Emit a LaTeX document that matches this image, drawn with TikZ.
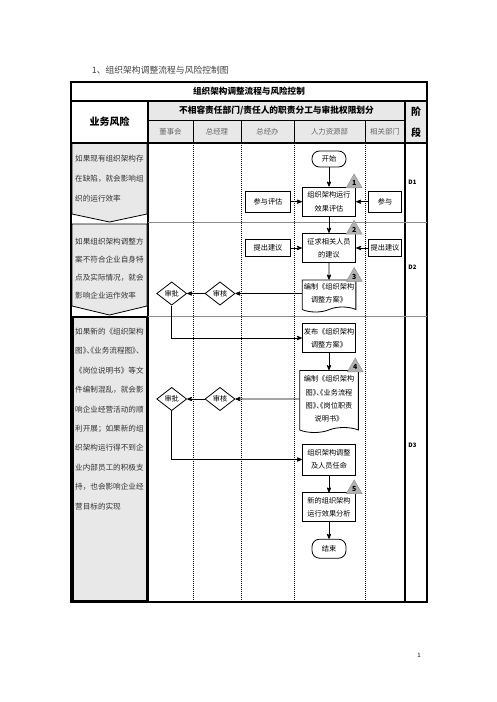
\documentclass[tikz,border=0pt]{standalone}
\usepackage{fontspec}
\setmainfont{Noto Sans CJK SC}
\usetikzlibrary{arrows,shapes.geometric,shapes.symbols}
\newcommand{\halfpunct}[1]{{\addfontfeatures{RawFeature=+halt}#1}}

\begin{document}
\begin{tikzpicture}[x=1pt,y=-1pt,>=stealth',node distance=40pt,
  main node/.style={rectangle,draw,thick,minimum width=53.5pt,minimum height=29.5pt,inner sep=1pt,align=center,font=\fontsize{7.2}{13.3}\selectfont},
  side node/.style={rectangle,draw,thick,minimum height=21.6pt,inner sep=1pt,font=\fontsize{7.2}{9}\selectfont},
  end node/.style={rectangle,rounded corners=7.5pt,draw,thick,minimum width=34pt,minimum height=16pt,font=\fontsize{7.2}{9}\selectfont},
  doc node/.style={tape,tape bend top=none,tape bend height=5pt,draw,thick,align=center,inner sep=1pt,minimum width=53.7pt,font=\fontsize{7.2}{13.3}\selectfont},
  check node/.style={diamond,draw,thick,aspect=1.3,inner sep=0pt,minimum width=30pt,minimum height=23.3pt,font=\fontsize{7.2}{9}\selectfont},
  tri node/.style={regular polygon,regular polygon sides=3,draw=black!45,fill=black!30,inner sep=0pt,minimum size=18.5pt,font=\fontsize{7}{8}\selectfont\bfseries},
  risk text/.style={anchor=north west,inner sep=0pt,align=left,text=black!80},
  lane text/.style={text=black!60,font=\fontsize{7.4}{9}\selectfont},
  stage text/.style={font=\fontsize{6}{7}\selectfont\bfseries},
  risk cell/.style={fill=black!9,draw,thick},
  lane/.style={densely dotted,line width=1pt}]

 \useasboundingbox (0,0) rectangle (496,702);

 % caption
 \node[anchor=west,inner sep=0pt,text=black!75,font=\fontsize{8.8}{10}\selectfont] (caption) at (91.7,70) {1、组织架构调整流程与风险控制图};

 % table
 \fill[black!9] (148,101) rectangle (427,143);
 \draw[line width=1.2pt] (71,82) rectangle (427,602);
 \draw[line width=1.2pt] (71,101) -- (427,101);
 \draw[line width=1.2pt] (71,143) -- (427,143);
 \draw[thick] (148,120) -- (405,120);
 \draw[line width=1.2pt] (148,101) -- (148,602);
 \draw[line width=1.2pt] (405,101) -- (405,602);
 \foreach \x in {193,241,294,365} {
   \draw[thick] (\x,120) -- (\x,143);
   \draw[lane] (\x,143) -- (\x,602);
 }
 \draw[black!45,thick] (148,222) -- (427,222);
 \draw[black!45,thick] (148,316) -- (427,316);

 % risk cells
 \draw[risk cell] (72,143.5) -- (147,143.5) -- (147,214) -- (109.5,222) -- (72,214) -- cycle;
 \draw[risk cell] (72,224) -- (147,224) -- (147,306) -- (109.5,315) -- (72,306) -- cycle;
 \draw[risk cell,line width=1.5pt] (73,317) rectangle (146.5,601);

 % headers
 \node[font=\fontsize{8.6}{10}\selectfont\bfseries] (title) at (249,91.5) {组织架构调整流程与风险控制};
 \node[font=\fontsize{10}{12}\selectfont\bfseries] (riskhead) at (109.5,122) {业务风险};
 \node[font=\fontsize{8.7}{10}\selectfont\bfseries] (dutyhead) at (276.5,110.5) {不相容责任部门/责任人的职责分工与审批权限划分};
 \node[align=center,font=\fontsize{10}{21}\selectfont\bfseries] (stagehead) at (416,122.5) {阶\\段};
 \node[lane text] (board) at (170.5,131.5) {董事会};
 \node[lane text] (ceo) at (217,131.5) {总经理};
 \node[lane text] (office) at (267.5,131.5) {总经办};
 \node[lane text] (hr) at (329.5,131.5) {人力资源部};
 \node[lane text] (dept) at (385,131.5) {相关部门};
 \node[stage text] (D1) at (412.5,182) {D1};
 \node[stage text] (D2) at (412.5,267) {D2};
 \node[stage text] (D3) at (412.5,445) {D3};

 % risks
 \node[risk text,font=\fontsize{7.6}{20}\selectfont] (risk1) at (75,154.5) {如果现有组织架构存\\在缺陷，就会影响组\\织的运行效率};
 \node[risk text,font=\fontsize{7.6}{18.1}\selectfont] (risk2) at (75,237.9) {如果组织架构调整方\\案不符合企业自身特\\点及实际情况，就会\\影响企业运作效率};
 \node[risk text,font=\fontsize{7.6}{19.4}\selectfont] (risk3) at (75,327.9) {如果新的《组织架构\\\halfpunct{图》、《业务流程图》、}\\《岗位说明书》等文\\件编制混乱，就会影\\响企业经营活动的顺\\利开展；如果新的组\\织架构运行得不到企\\业内部员工的积极支\\持，也会影响企业经\\营目标的实现};

 % flow
 \node[end node] (start) at (329,159) {开始};
 \node[main node] (eval) [below of=start, node distance=42.7pt] {组织架构运行\\效果评估};
 \node[main node] (advice) [below of=eval, node distance=46.3pt] {征求相关人员\\的建议};
 \node[doc node,minimum height=32pt] (plan) [below of=advice, node distance=45.5pt] {编制《组织架构\\调整方案》};
 \node[main node] (issue) [below of=plan, node distance=44.5pt] {发布《组织架构\\调整方案》};
 \node[doc node,minimum width=58.7pt,minimum height=62pt] (charts) [below of=issue, node distance=61pt] {编制《组织架构\\\halfpunct{图》、《业务流程}\\\halfpunct{图》、《岗位职责}\\说明书》};
 \node[main node,minimum height=31pt] (appoint) [below of=charts, node distance=60.5pt] {组织架构调整\\及人员任命};
 \node[main node,minimum height=28.3pt] (analysis) [below of=appoint, node distance=47.5pt] {新的组织架构\\运行效果分析};
 \node[end node,minimum height=19pt] (finish) [below of=analysis, node distance=41.7pt] {结束};

 \node[side node,minimum width=44.3pt] (join) [left of=eval, node distance=61pt] {参与评估};
 \node[side node,minimum width=33.7pt] (part) [right of=eval, node distance=56pt] {参与};
 \node[side node,minimum width=44.3pt,minimum height=17pt] (idea1) [left of=advice, node distance=61pt] {提出建议};
 \node[side node,minimum width=33.7pt,minimum height=17pt] (idea2) [right of=advice, node distance=56pt] {提出建议};

 \node[check node] (review1) [left of=plan, node distance=109pt] {审核};
 \node[check node] (approve1) [left of=review1, node distance=48.3pt] {审批};
 \node[check node] (review2) [left of=charts, node distance=109pt] {审核};
 \node[check node] (approve2) [left of=review2, node distance=48.3pt] {审批};

 % control points
 \node[tri node,anchor=south] (t1) at ([xshift=-2pt,yshift=-1.5pt]eval.north east) {1};
 \node[tri node,anchor=south] (t2) at ([xshift=-2pt,yshift=-1.5pt]advice.north east) {2};
 \node[tri node,anchor=south] (t3) at ([xshift=-2pt,yshift=-2pt]plan.north east) {3};
 \node[tri node,anchor=south] (t4) at ([xshift=-3.5pt,yshift=-2pt]charts.north east) {4};
 \node[tri node,anchor=south] (t5) at ([xshift=-2pt,yshift=-1.5pt]analysis.north east) {5};

 \path[->,thick]
    (start)	edge (eval)
    (eval)	edge (advice)
    (advice)	edge (plan)
    (join)	edge (eval)
    (part)	edge (eval)
    (idea1)	edge (advice)
    (idea2)	edge (advice)
    (plan)	edge (review1)
    (review1)	edge (approve1)
    (issue)	edge (charts)
    (charts)	edge (review2)
    (review2)	edge (approve2)
    (appoint)	edge (analysis)
    (analysis)	edge (finish);
 \draw[->,thick] (approve1) |- (issue);
 \draw[->,thick] (approve2) |- (appoint);

 \node[font=\fontsize{6}{7}\selectfont] (page) at (419,655) {1};
\end{tikzpicture}
\end{document}
